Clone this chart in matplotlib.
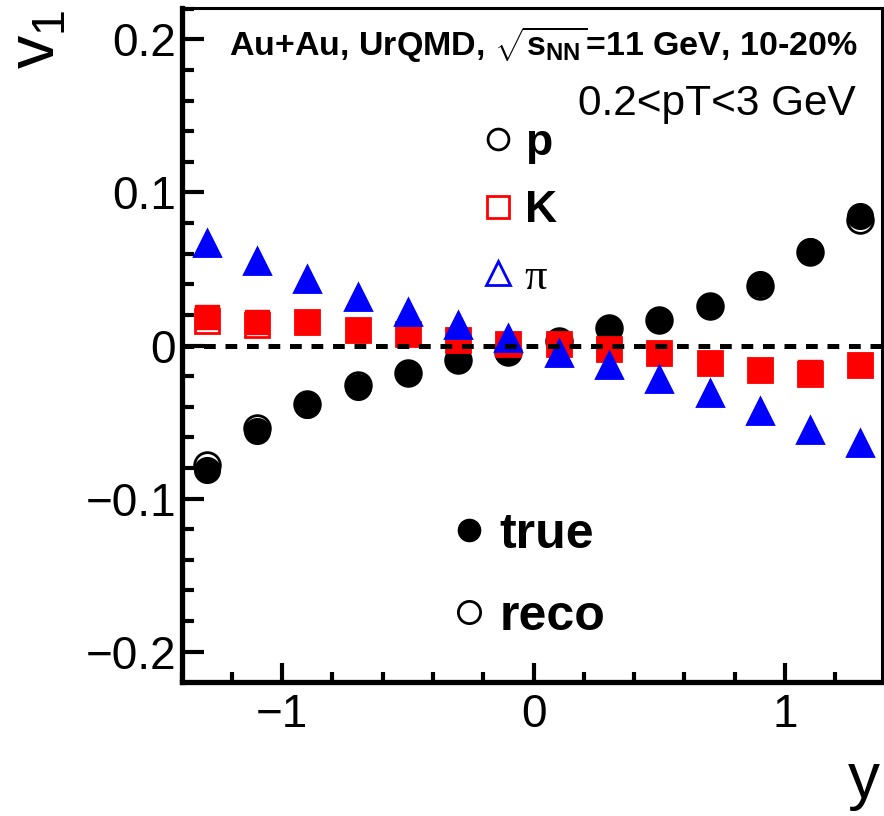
import matplotlib
matplotlib.use('Agg')
import matplotlib.pyplot as plt
from matplotlib.lines import Line2D
from matplotlib.ticker import MultipleLocator

plt.rcParams['font.family'] = ['Liberation Sans', 'DejaVu Sans']
plt.rcParams['mathtext.fontset'] = 'custom'
plt.rcParams['mathtext.rm'] = 'Liberation Sans'
plt.rcParams['mathtext.bf'] = 'Liberation Sans:bold'
plt.rcParams['axes.unicode_minus'] = True

# rapidity bins
y_bins = [-1.3, -1.1, -0.9, -0.7, -0.5, -0.3, -0.1, 0.1, 0.3, 0.5, 0.7, 0.9, 1.1, 1.3]

# protons
p_true = [-0.081, -0.056, -0.039, -0.027, -0.018, -0.0097, -0.004, 0.003, 0.0114, 0.0164, 0.026, 0.0404, 0.062, 0.0844]
p_reco = [-0.078, -0.054, -0.038, -0.026, -0.018, -0.0097, -0.004, 0.003, 0.0114, 0.0164, 0.026, 0.039, 0.061, 0.082]
# kaons
k_true = [0.0184, 0.0151, 0.0151, 0.0099, 0.0077, 0.0036, 0.001, 0.0008, -0.002, -0.0047, -0.0112, -0.0162, -0.0171, -0.013]
k_reco = [0.0162, 0.0134, 0.0151, 0.0099, 0.0077, 0.0036, 0.001, 0.0008, -0.002, -0.0047, -0.0112, -0.0162, -0.0188, -0.013]
# pions
pi_true = [0.067, 0.055, 0.0434, 0.032, 0.0219, 0.0134, 0.0047, -0.0047, -0.0127, -0.0219, -0.0308, -0.0426, -0.0554, -0.0639]
pi_reco = [0.067, 0.055, 0.0434, 0.032, 0.0219, 0.0134, 0.0047, -0.0047, -0.0127, -0.0219, -0.0308, -0.0426, -0.0554, -0.0639]

fig = plt.figure(figsize=(8.84, 8.16), dpi=100)
ax = fig.add_axes([0.2055, 0.1646, 0.7919, 0.8252])

# protons (bottom layer)
ax.plot(y_bins, p_reco, 'o', ms=18.5, mfc='none', mec='black', mew=2, ls='none', zorder=2)
ax.plot(y_bins, p_true, 'o', ms=18.5, color='black', ls='none', zorder=2)
# kaons
ax.plot(y_bins, k_reco, 's', ms=17.5, mfc='none', mec='red', mew=2, ls='none', zorder=3)
ax.plot(y_bins, k_true, 's', ms=17.5, color='red', ls='none', zorder=3)
# pions
ax.plot(y_bins, pi_reco, '^', ms=18.5, mfc='none', mec='blue', mew=2, ls='none', zorder=4)
ax.plot(y_bins, pi_true, '^', ms=18.5, color='blue', ls='none', zorder=4)

ax.axhline(0, color='black', lw=3.6, ls=(0, (2.35, 1.95)), zorder=5)

ax.set_xlim(-1.4, 1.385)
ax.set_ylim(-0.2196, 0.2203)

ax.xaxis.set_major_locator(MultipleLocator(1))
ax.xaxis.set_minor_locator(MultipleLocator(0.2))
ax.yaxis.set_major_locator(MultipleLocator(0.1))
ax.yaxis.set_minor_locator(MultipleLocator(0.02))
ax.tick_params(axis='both', which='both', direction='in', width=3.0,
               top=False, right=False, labelsize=33)
ax.tick_params(axis='y', which='major', length=15.5, pad=4)
ax.tick_params(axis='y', which='minor', length=8.5)
ax.tick_params(axis='x', which='major', length=13.5, pad=8)
ax.tick_params(axis='x', which='minor', length=7.2)
ax.set_yticks([-0.2, -0.1, 0, 0.1, 0.2])
ax.set_yticklabels(['\u22120.2', '\u22120.1', '0', '0.1', '0.2'])
ax.set_xticks([-1, 0, 1])
ax.set_xticklabels(['\u22121', '0', '1'])

for s in ['left', 'bottom']:
    ax.spines[s].set_linewidth(3.8)
for s in ['top', 'right']:
    ax.spines[s].set_linewidth(2.2)

ax.set_xlabel('y', fontsize=46, loc='right')
ax.xaxis.set_label_coords(0.998, -0.103)
ax.set_ylabel('v$_1$', fontsize=48, loc='top')
ax.yaxis.set_label_coords(-0.161, 0.998)

ax.text(0.0676, 0.9455, r'Au+Au, UrQMD, $\sqrt{\mathbf{s}_{\mathbf{NN}}}$=11 GeV, 10-20%',
        transform=ax.transAxes, fontsize=24.5, fontweight='bold', va='center', ha='left')
ax.text(0.963, 0.858, '0.2<pT<3 GeV', transform=ax.transAxes, fontsize=30.5,
        va='center', ha='right')

# species legend
h_species = [Line2D([], [], marker='o', ms=15, mfc='none', mec='black', mew=2, ls='none'),
             Line2D([], [], marker='s', ms=16, mfc='none', mec='red', mew=2, ls='none'),
             Line2D([], [], marker='^', ms=17, mfc='none', mec='blue', mew=2, ls='none')]
leg1 = ax.legend(h_species, ['p', 'K', '\u03c0'], loc='upper left', bbox_to_anchor=(0.4329, 0.8304),
                 frameon=False, fontsize=32, handlelength=0.6, handletextpad=0.3,
                 labelspacing=0.6, borderpad=0, borderaxespad=0)
for t in leg1.get_texts()[:2]:
    t.set_fontweight('bold')
leg1.get_texts()[2].set_fontfamily(['Liberation Serif'])
ax.add_artist(leg1)

# true / reco legend
h_type = [Line2D([], [], marker='o', ms=16, color='black', ls='none'),
          Line2D([], [], marker='o', ms=16, mfc='none', mec='black', mew=2, ls='none')]
leg2 = ax.legend(h_type, ['true', 'reco'], loc='upper left', bbox_to_anchor=(0.391, 0.252),
                 frameon=False, fontsize=36, handlelength=0.55, handletextpad=0.33,
                 labelspacing=0.72, borderpad=0, borderaxespad=0)
for t in leg2.get_texts():
    t.set_fontweight('bold')

fig.savefig('out.png', dpi=100)
